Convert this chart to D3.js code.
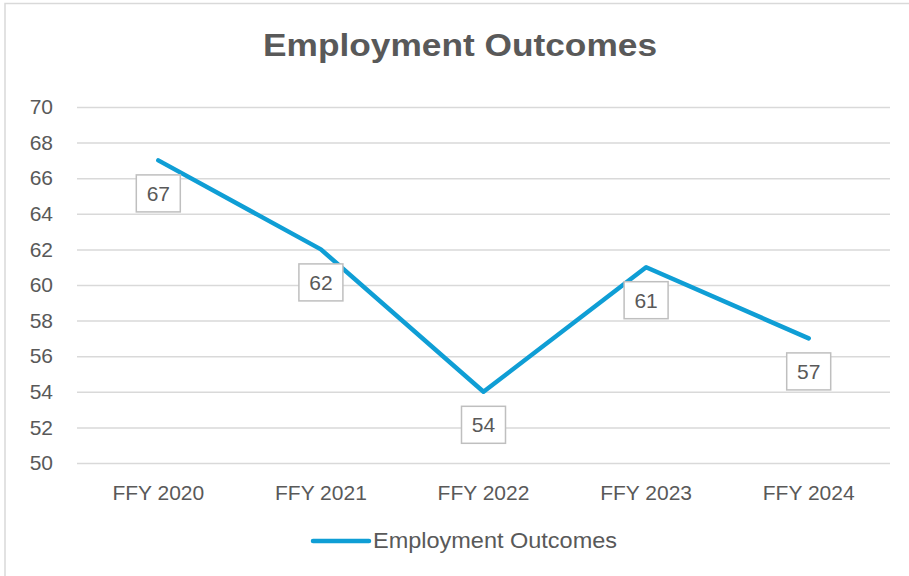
<!DOCTYPE html>
<html>
<head>
<meta charset="utf-8">
<script src="https://cdn.jsdelivr.net/npm/d3@7"></script>
<style>
  html, body { margin: 0; padding: 0; background: #ffffff; }
  svg { display: block; }
  text { font-family: "Liberation Sans", Arial, sans-serif; fill: #595959; }
</style>
</head>
<body>
<svg id="chart" width="909" height="576"></svg>
<script>
// Chart data
const categories = ["FFY 2020", "FFY 2021", "FFY 2022", "FFY 2023", "FFY 2024"];
const employmentOutcomes = [67, 62, 54, 61, 57];
const yTicks = [50, 52, 54, 56, 58, 60, 62, 64, 66, 68, 70];
const seriesName = "Employment Outcomes";
const chartTitle = "Employment Outcomes";

const W = 909, H = 576;
const plot = { left: 77, right: 890, top: 107, bottom: 463 };
const lineColor = "#0F9ED5";
const gridColor = "#d9d9d9";

const svg = d3.select("#chart");

// Outer chart frame (open on the right and bottom edges of the window)
svg.append("path")
  .attr("d", `M5,${H + 2} L5,3.5 L${W + 2},3.5`)
  .attr("fill", "none")
  .attr("stroke", gridColor)
  .attr("stroke-width", 1.5);

const x = d3.scaleBand().domain(categories).range([plot.left, plot.right]);
const y = d3.scaleLinear().domain([d3.min(yTicks), d3.max(yTicks)]).range([plot.bottom, plot.top]);

// Title
svg.append("text")
  .attr("x", 460)
  .attr("y", 56)
  .attr("text-anchor", "middle")
  .attr("font-size", 32)
  .attr("font-weight", "bold")
  .attr("textLength", 394)
  .attr("lengthAdjust", "spacingAndGlyphs")
  .text(chartTitle);

// Y axis with horizontal gridlines
const yAxis = svg.append("g")
  .attr("transform", `translate(${plot.left},0)`)
  .call(d3.axisLeft(y)
    .tickValues(yTicks)
    .tickSize(-(plot.right - plot.left))
    .tickPadding(24)
    .tickFormat(d3.format("d")));
yAxis.select(".domain").remove();
yAxis.selectAll(".tick line").attr("stroke", gridColor).attr("stroke-width", 1.5);
yAxis.selectAll(".tick text")
  .attr("font-size", 21)
  .attr("font-family", "Liberation Sans, Arial, sans-serif")
  .attr("fill", "#595959");

// X axis category labels
const xAxis = svg.append("g")
  .attr("transform", `translate(0,${plot.bottom})`)
  .call(d3.axisBottom(x).tickSize(0).tickPadding(22));
xAxis.select(".domain").remove();
xAxis.selectAll(".tick text")
  .attr("font-size", 21)
  .attr("font-family", "Liberation Sans, Arial, sans-serif")
  .attr("fill", "#595959");

// Series line
const points = categories.map((c, i) => ({ cat: c, value: employmentOutcomes[i] }));
const line = d3.line()
  .x(d => x(d.cat) + x.bandwidth() / 2)
  .y(d => y(d.value));

svg.append("path")
  .datum(points)
  .attr("d", line)
  .attr("fill", "none")
  .attr("stroke", lineColor)
  .attr("stroke-width", 4.5)
  .attr("stroke-linejoin", "round")
  .attr("stroke-linecap", "round");

// Data labels in boxes below each point
const boxW = 44, boxH = 37, boxOffset = 33;
const labels = svg.append("g").selectAll("g")
  .data(points)
  .join("g")
  .attr("transform", d => `translate(${x(d.cat) + x.bandwidth() / 2},${y(d.value) + boxOffset})`);

labels.append("rect")
  .attr("x", -boxW / 2)
  .attr("y", -boxH / 2)
  .attr("width", boxW)
  .attr("height", boxH)
  .attr("fill", "#ffffff")
  .attr("stroke", "#bfbfbf")
  .attr("stroke-width", 1.5);

labels.append("text")
  .attr("text-anchor", "middle")
  .attr("y", 7.5)
  .attr("font-size", 21)
  .text(d => d.value);

// Legend
const legend = svg.append("g").attr("transform", "translate(313,541)");
legend.append("line")
  .attr("x1", 0).attr("x2", 56)
  .attr("y1", 0).attr("y2", 0)
  .attr("stroke", lineColor)
  .attr("stroke-width", 4.5)
  .attr("stroke-linecap", "round");
legend.append("text")
  .attr("x", 60)
  .attr("y", 7)
  .attr("font-size", 22)
  .attr("textLength", 244)
  .attr("lengthAdjust", "spacingAndGlyphs")
  .text(seriesName);
</script>
</body>
</html>
